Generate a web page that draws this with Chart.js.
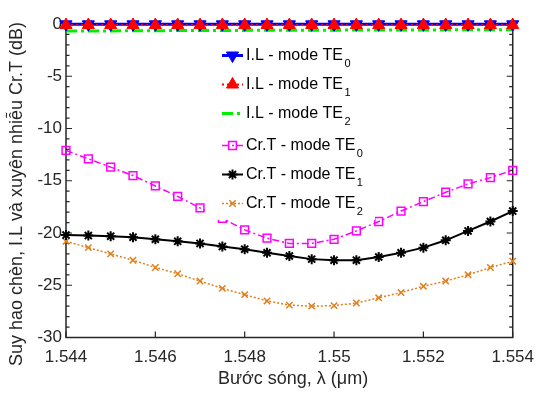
<!DOCTYPE html>
<html>
<head>
<meta charset="utf-8">
<script src="https://cdn.jsdelivr.net/npm/chart.js"></script>
<style>
  html, body { margin: 0; padding: 0; background: #fff; }
</style>
</head>
<body>
<canvas id="chart" width="544" height="397"></canvas>
<script>
// wavelength samples (um)
const wavelengths = [1.544, 1.5445, 1.545, 1.5455, 1.546, 1.5465, 1.547, 1.5475, 1.548, 1.5485, 1.549,
  1.5495, 1.55, 1.5505, 1.551, 1.5515, 1.552, 1.5525, 1.553, 1.5535, 1.554];

// insertion loss (dB)
const ilTE0 = [-0.03, -0.03, -0.03, -0.03, -0.03, -0.03, -0.03, -0.03, -0.03, -0.03, -0.03,
  -0.03, -0.03, -0.03, -0.03, -0.03, -0.03, -0.03, -0.03, -0.03, -0.03];
const ilTE1 = [-0.1, -0.1, -0.1, -0.1, -0.1, -0.1, -0.1, -0.1, -0.1, -0.1, -0.1,
  -0.1, -0.1, -0.1, -0.1, -0.1, -0.1, -0.1, -0.1, -0.1, -0.1];
const ilTE2 = [-0.68, -0.67, -0.66, -0.65, -0.64, -0.63, -0.62, -0.62, -0.61, -0.6, -0.6,
  -0.59, -0.59, -0.58, -0.58, -0.57, -0.57, -0.56, -0.56, -0.55, -0.55];

// crosstalk (dB)
const crTE0 = [-12.1, -12.9, -13.7, -14.5, -15.5, -16.5, -17.6, -18.6, -19.7, -20.5, -21.0,
  -21.0, -20.6, -19.8, -18.9, -17.9, -17.0, -16.1, -15.3, -14.7, -14.0];
const crTE1 = [-20.2, -20.25, -20.3, -20.4, -20.6, -20.8, -21.0, -21.3, -21.55, -21.9, -22.2,
  -22.5, -22.6, -22.6, -22.3, -21.9, -21.4, -20.7, -19.8, -18.9, -17.9];
const crTE2 = [-20.8, -21.4, -22.0, -22.6, -23.3, -23.9, -24.6, -25.3, -25.9, -26.5, -26.9,
  -27.0, -26.95, -26.7, -26.2, -25.7, -25.1, -24.6, -24.0, -23.3, -22.7];

const xTicks = [1.544, 1.546, 1.548, 1.55, 1.552, 1.554];
const yTicks = [0, -5, -10, -15, -20, -25, -30];

const legendLabels = ["I.L - mode TE", "I.L - mode TE", "I.L - mode TE",
  "Cr.T - mode TE", "Cr.T - mode TE", "Cr.T - mode TE"];
const legendSubs = ["0", "1", "2", "0", "1", "2"];

const xTitle = "Bước sóng, λ (μm)";
const yTitle = "Suy hao chèn, I.L và xuyên nhiễu Cr.T (dB)";

const FONT = "'Liberation Sans', Arial, Helvetica, sans-serif";
const TEXT_COLOR = "#262626";

const toPoints = (vals) => vals.map((v, i) => ({ x: wavelengths[i], y: v }));

const datasets = [
  {
    data: toPoints(ilTE0), borderColor: "#0000ff", backgroundColor: "#0000ff",
    borderWidth: 3, pointStyle: "triangle", rotation: 180, pointRadius: 7,
    pointBorderWidth: 1, order: 1,
  },
  {
    data: toPoints(ilTE1), borderColor: "#ff0000", backgroundColor: "#ff0000",
    borderWidth: 2, borderDash: [2, 3], pointStyle: "triangle", pointRadius: 7,
    pointBorderWidth: 1, order: 0,
  },
  {
    data: toPoints(ilTE2), borderColor: "#00ee00", backgroundColor: "#00ee00",
    borderWidth: 3, borderDash: [11, 4, 3, 4], pointRadius: 0, order: 2,
  },
  {
    data: toPoints(crTE0), borderColor: "#ff00ff", backgroundColor: "rgba(0,0,0,0)",
    borderWidth: 1.5, borderDash: [7, 3, 2, 3], pointStyle: "rect", pointRadius: 5.5,
    pointBorderWidth: 1.5, order: 3,
  },
  {
    data: toPoints(crTE1), borderColor: "#000000", backgroundColor: "#000000",
    borderWidth: 2, pointStyle: "star", pointRadius: 5, pointBorderWidth: 2, order: 4,
  },
  {
    data: toPoints(crTE2), borderColor: "#e07f1c", backgroundColor: "#e07f1c",
    borderWidth: 1.5, borderDash: [2, 2], pointStyle: "crossRot", pointRadius: 4.5,
    pointBorderWidth: 1.5, order: 5,
  },
];
datasets.forEach((d) => { d.clip = false; d.tension = 0; });

// MATLAB-like box with inward ticks
const boxPlugin = {
  id: "boxPlugin",
  beforeDatasetsDraw(chart) {
    const { ctx, chartArea: a, scales: { x, y } } = chart;
    ctx.save();
    ctx.strokeStyle = TEXT_COLOR;
    ctx.lineWidth = 1.5;
    ctx.strokeRect(a.left, a.top, a.right - a.left, a.bottom - a.top);
    ctx.lineWidth = 1.2;
    ctx.beginPath();
    for (let v = -30; v <= 0; v++) {
      const py = y.getPixelForValue(v);
      const len = v % 5 === 0 ? 6 : 3.5;
      ctx.moveTo(a.left, py);
      ctx.lineTo(a.left + len, py);
      ctx.moveTo(a.right, py);
      ctx.lineTo(a.right - len, py);
    }
    xTicks.forEach((v) => {
      const px = x.getPixelForValue(v);
      ctx.moveTo(px, a.bottom);
      ctx.lineTo(px, a.bottom - 6);
      ctx.moveTo(px, a.top);
      ctx.lineTo(px, a.top + 6);
    });
    ctx.stroke();
    ctx.restore();
  },
};

// legend with subscripts, drawn over the data on a white box
const legendPlugin = {
  id: "legendPlugin",
  afterDatasetsDraw(chart) {
    const { ctx } = chart;
    ctx.save();
    ctx.fillStyle = "#fff";
    ctx.fillRect(205, 40, 170, 180);
    datasets.forEach((d, i) => {
      const cy = 55.5 + i * 29 + (i >= 3 ? 3 : 0);
      ctx.strokeStyle = d.borderColor;
      ctx.lineWidth = d.borderWidth;
      ctx.setLineDash(d.borderDash || []);
      ctx.beginPath();
      ctx.moveTo(222, cy);
      ctx.lineTo(243, cy);
      ctx.stroke();
      ctx.setLineDash([]);
      if (d.pointRadius > 0) {
        ctx.fillStyle = d.backgroundColor;
        ctx.lineWidth = d.pointBorderWidth;
        Chart.helpers.drawPoint(ctx, {
          pointStyle: d.pointStyle, radius: d.pointRadius,
          rotation: d.rotation || 0, borderWidth: d.pointBorderWidth,
        }, 232.5, cy);
      }
      ctx.fillStyle = "#000";
      ctx.textBaseline = "middle";
      ctx.textAlign = "left";
      ctx.font = "16px " + FONT;
      ctx.fillText(legendLabels[i], 246, cy);
      const w = ctx.measureText(legendLabels[i]).width;
      ctx.font = "11px " + FONT;
      ctx.fillText(legendSubs[i], 246 + w + 1.5, cy + 8);
    });
    ctx.restore();
  },
};

const titlePlugin = {
  id: "titlePlugin",
  afterDraw(chart) {
    const { ctx } = chart;
    ctx.save();
    ctx.fillStyle = TEXT_COLOR;
    ctx.font = "18px " + FONT;
    ctx.textAlign = "center";
    ctx.textBaseline = "middle";
    ctx.fillText(xTitle, 293, 379);
    ctx.translate(17, 194);
    ctx.rotate(-Math.PI / 2);
    ctx.fillText(yTitle, 0, 0);
    ctx.restore();
  },
};

new Chart(document.getElementById("chart"), {
  type: "line",
  data: { datasets: datasets },
  options: {
    responsive: false,
    animation: false,
    layout: { padding: { top: 24, right: 24, left: 0, bottom: 0 } },
    plugins: { legend: { display: false }, tooltip: { enabled: false } },
    scales: {
      x: {
        type: "linear",
        min: 1.544,
        max: 1.554,
        afterFit: (s) => { s.height = 59.5; },
        afterBuildTicks: (s) => { s.ticks = xTicks.map((v) => ({ value: v })); },
        grid: { display: false, drawTicks: false },
        border: { display: false },
        ticks: {
          padding: 10,
          color: TEXT_COLOR,
          font: { size: 17, family: FONT },
          maxRotation: 0,
          callback: (v) => String(+Number(v).toFixed(3)),
        },
      },
      y: {
        min: -30,
        max: 0,
        afterFit: (s) => { s.width = 66; },
        afterBuildTicks: (s) => { s.ticks = yTicks.map((v) => ({ value: v })); },
        grid: { display: false, drawTicks: false },
        border: { display: false },
        ticks: {
          padding: 4,
          color: TEXT_COLOR,
          font: { size: 17, family: FONT },
          callback: (v) => String(v),
        },
      },
    },
  },
  plugins: [boxPlugin, legendPlugin, titlePlugin],
});
</script>
</body>
</html>
